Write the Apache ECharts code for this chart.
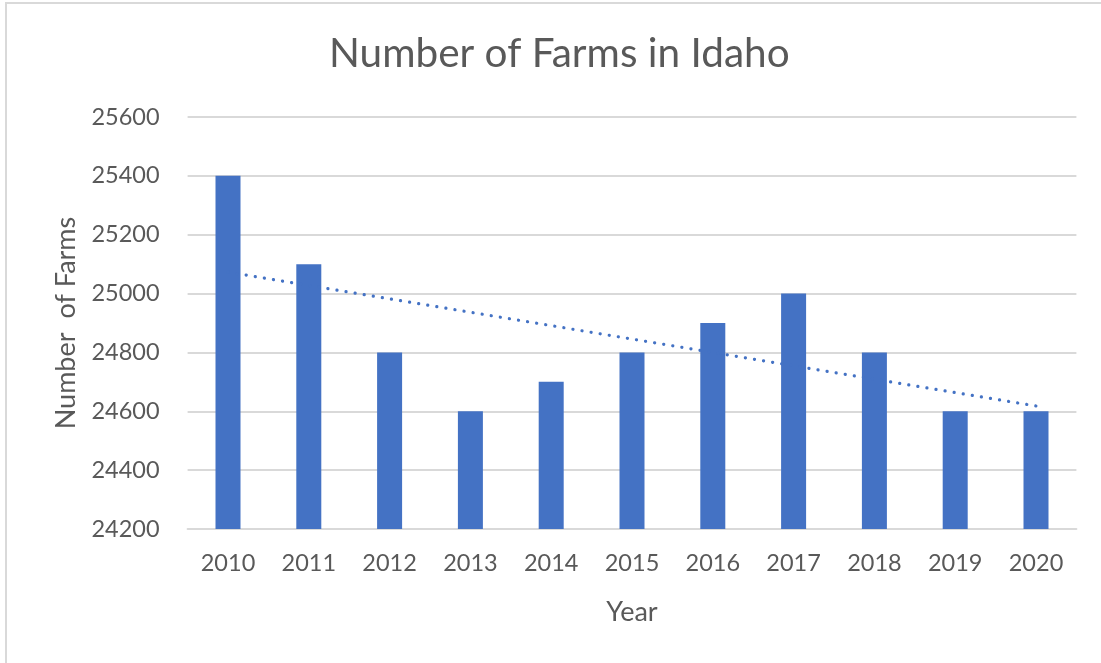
<!DOCTYPE html>
<html>
<head>
<meta charset="utf-8">
<script src="https://cdn.jsdelivr.net/npm/echarts@6/dist/echarts.min.js"></script>
<style>
html,body{margin:0;padding:0;background:#fff;}
#main{width:1101px;height:663px;}
</style>
</head>
<body>
<div id="main"></div>
<script>
var years = ['2010','2011','2012','2013','2014','2015','2016','2017','2018','2019','2020'];
var farms = [25400, 25100, 24800, 24600, 24700, 24800, 24900, 25000, 24800, 24600, 24600];
var trendYears = ['2010', '2020'];
var trendValues = [25073, 24618];
var yTicks = [24200, 25600, 200];

var chart = echarts.init(document.getElementById('main'));
var textColor = '#595959';
var fontFam = 'Lato, "Open Sans", sans-serif';
chart.setOption({
  animation: false,
  backgroundColor: '#ffffff',
  title: {
    text: 'Number of Farms in Idaho',
    left: 324,
    top: 28,
    textStyle: {color: textColor, fontFamily: fontFam, fontSize: 40.5, fontWeight: 'normal'}
  },
  graphic: [{
    type: 'rect', silent: true,
    shape: {x: 6, y: 3, width: 1200, height: 800},
    style: {fill: 'none', stroke: '#d9d9d9', lineWidth: 2}
  }],
  grid: {left: 187.6, right: 24.6, top: 117, bottom: 134},
  xAxis: {
    type: 'category',
    data: years,
    name: 'Year',
    nameLocation: 'middle',
    nameGap: 70,
    nameTextStyle: {color: textColor, fontFamily: fontFam, fontSize: 27},
    axisLine: {show: true, lineStyle: {color: '#d9d9d9', width: 2}},
    axisTick: {show: false},
    axisLabel: {color: textColor, fontFamily: fontFam, fontSize: 23.5, margin: 22}
  },
  yAxis: {
    type: 'value',
    min: yTicks[0], max: yTicks[1], interval: yTicks[2],
    name: 'Number  of Farms',
    nameLocation: 'middle',
    nameRotate: 90,
    nameGap: 108,
    nameTextStyle: {color: textColor, fontFamily: fontFam, fontSize: 27},
    axisLine: {show: false},
    axisTick: {show: false},
    axisLabel: {color: textColor, fontFamily: fontFam, fontSize: 23.5, margin: 28,
      formatter: function(v){ return String(v); }},
    splitLine: {lineStyle: {color: '#d9d9d9', width: 2}}
  },
  series: [{
    type: 'bar',
    data: farms,
    barWidth: 25,
    itemStyle: {color: '#4472C4'}
  }, {
    type: 'line',
    data: trendYears.map(function(y, i){ return [y, trendValues[i]]; }),
    symbol: 'none',
    lineStyle: {color: '#4472C4', width: 3.2, type: [0.1, 9.1], cap: 'round'},
    z: 3
  }]
});
</script>
</body>
</html>
